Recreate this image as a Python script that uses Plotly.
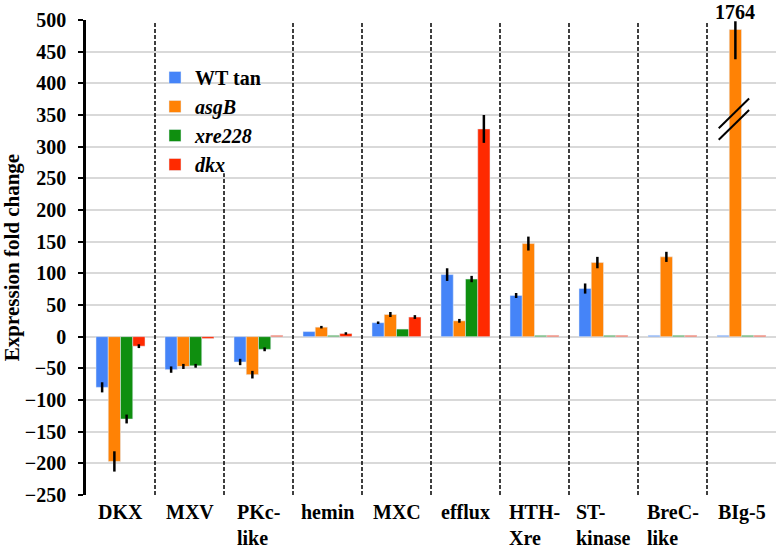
import plotly.graph_objects as go

categories = ["DKX", "MXV", "PKc-like", "hemin", "MXC", "efflux",
              "HTH-Xre", "ST-kinase", "BreC-like", "BIg-5"]
tick_labels = ["DKX", "MXV", "PKc-<br>like", "hemin", "MXC", "efflux",
               "HTH-<br>Xre", "ST-<br>kinase", "BreC-<br>like", "BIg-5"]

wt_tan = [-80, -52, -40, 8, 22, 98, 65, 76, 2, 2]
wt_tan_err = [8, 5, 5, 0, 2, 10, 4, 8, 0, 0]

asgB = [-197, -47, -60, 15, 35, 25, 147, 117, 126, 485]
asgB_err_plus = [16, 4, 6, 2, 4, 3, 11, 9, 8, 13]
asgB_err_minus = [16, 4, 6, 2, 4, 3, 11, 9, 8, 47]

xre228 = [-130, -46, -20, 2, 12, 91, 2, 2, 2, 2]
xre228_err = [7, 3, 3, 0, 0, 5, 0, 0, 0, 0]

dkx = [-15, -3, 2, 5, 31, 328, 2, 2, 2, 2]
dkx_err = [3, 0, 0, 2, 3, 22, 0, 0, 0, 0]

big5_true_value = "1764"

y_ticks = [500, 450, 400, 350, 300, 250, 200, 150, 100, 50, 0, -50, -100, -150, -200, -250]

colors = {"wt": "#4584F8", "asgB": "#FF8205", "xre": "#0F8F0F", "dkx": "#FF2A00"}

FONT = "Liberation Serif, Times New Roman, serif"

fig = go.Figure()

def err(arr, arrminus=None):
    d = dict(type="data", array=arr, visible=True, color="black",
             thickness=2.5, width=0)
    if arrminus is not None:
        d["symmetric"] = False
        d["arrayminus"] = arrminus
    return d

fig.add_trace(go.Bar(x=categories, y=wt_tan, name="WT tan", marker_color=colors["wt"],
                     error_y=err(wt_tan_err), legendgroup="a"))
fig.add_trace(go.Bar(x=categories, y=asgB, name="<i>asgB</i>", marker_color=colors["asgB"],
                     error_y=err(asgB_err_plus, asgB_err_minus), legendgroup="b"))
fig.add_trace(go.Bar(x=categories, y=xre228, name="<i>xre228</i>", marker_color=colors["xre"],
                     error_y=err(xre228_err), legendgroup="c"))
fig.add_trace(go.Bar(x=categories, y=dkx, name="<i>dkx</i>", marker_color=colors["dkx"],
                     error_y=err(dkx_err), legendgroup="d"))

shapes = []
for i in range(len(categories) - 1):
    top = 258 if i == 1 else 497
    shapes.append(dict(type="line", xref="x", yref="y", x0=i + 0.5, x1=i + 0.5,
                       y0=-250, y1=top, line=dict(color="black", width=1.5, dash="4px,2px")))
# axis-break marks on the BIg-5 asgB bar
for y0, y1 in [(329, 376), (311, 358)]:
    shapes.append(dict(type="line", xref="x", yref="y", x0=8.67, x1=9.11,
                       y0=y0, y1=y1, line=dict(color="black", width=2)))

annotations = []
for cat, lab in zip(categories, tick_labels):
    annotations.append(dict(x=cat, y=0, xref="x", yref="paper", text=lab,
                            showarrow=False, yanchor="top", xanchor="center",
                            align="left", yshift=-4,
                            font=dict(family=FONT, size=20, color="black", weight="bold")))
annotations.append(dict(x=8.9, y=1, xref="x", yref="paper", text=big5_true_value,
                        showarrow=False, yanchor="bottom", yshift=-5,
                        font=dict(family=FONT, size=20, color="black", weight="bold")))

fig.update_layout(
    width=781, height=551,
    margin=dict(l=86, r=5, t=20, b=56),
    paper_bgcolor="white", plot_bgcolor="white",
    barmode="group", bargap=0.29, bargroupgap=0,
    shapes=shapes, annotations=annotations,
    showlegend=True,
    legend=dict(x=0.1, y=0.92, xanchor="left", yanchor="top",
                bgcolor="rgba(0,0,0,0)", tracegroupgap=0,
                font=dict(family=FONT, size=20, color="black", weight="bold")),
    font=dict(family=FONT, color="black"),
)

fig.update_xaxes(range=[-0.5, len(categories) - 0.5], showticklabels=False,
                 showgrid=False, showline=False, ticks="", zeroline=False)
fig.update_yaxes(range=[-250, 500], tickvals=y_ticks, showgrid=True,
                 gridcolor="#D9D9D9", gridwidth=1.5, zeroline=False,
                 showline=True, linecolor="black", linewidth=2.5,
                 ticks="outside", ticklen=5, tickwidth=2, tickcolor="black",
                 ticklabelstandoff=8,
                 tickfont=dict(family=FONT, size=20, color="black", weight="bold"),
                 title=dict(text="Expression fold change", standoff=0,
                            font=dict(family=FONT, size=21, color="black", weight="bold")))

fig.write_html("out.html", config={"displayModeBar": False},
               post_script="document.body.style.margin='0';")
